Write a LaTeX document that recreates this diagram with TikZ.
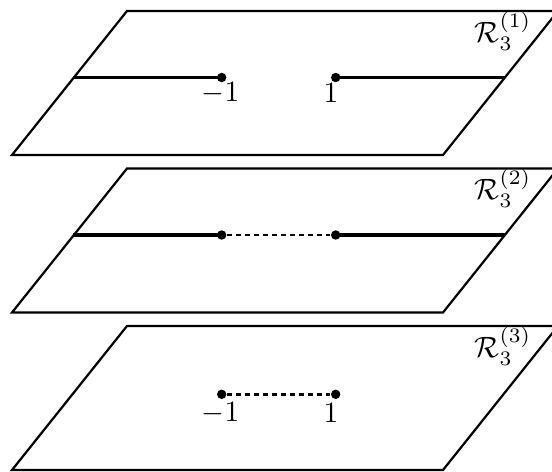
\documentclass[tikz,border=0pt]{standalone}
\begin{document}
\begin{tikzpicture}[x=0.34pt,y=-0.34pt,
  edge/.style={line width=0.75pt, line join=miter},
  cut/.style={line width=1.15pt},
  dcut/.style={line width=1.0pt, dash pattern=on 1.7pt off 1.35pt},
  branchpt/.style={circle, fill=black, inner sep=0pt, minimum size=3.2pt},
  numlbl/.style={inner sep=0pt},
  sheetlbl/.style={inner sep=0pt}]
\useasboundingbox (0,0) rectangle (552,472);
\clip (0,0) rectangle (552,472);
% ---------- sheet 1 ----------
\begin{scope}[yshift=-11*0.34pt]
  \draw[edge] (12,144) -- (443,144) -- (558,0) -- (127,0) -- cycle;
  \coordinate (l1) at (73.5,66.5);
  \coordinate (r1) at (505,66.5);
  \node[branchpt] (a1) at (221.7,66.5) {};
  \node[branchpt] (b1) at (335.7,66.5) {};
  \draw[cut] (l1) -- (a1.center);
  \draw[cut] (b1.center) -- (r1);
  \node[numlbl] (ma1) at (220.5,82) {$-1$};
  \node[numlbl] (pa1) at (331,82) {$1$};
  \node[sheetlbl] (s1) at (503,20.5) {$\mathcal{R}_3^{(1)}$};
\end{scope}
% ---------- sheet 2 ----------
\begin{scope}[yshift=-168.5*0.34pt]
  \draw[edge] (12,144) -- (443,144) -- (558,0) -- (127,0) -- cycle;
  \coordinate (l2) at (73.5,66.5);
  \coordinate (r2) at (505,66.5);
  \node[branchpt] (a2) at (221.7,66.5) {};
  \node[branchpt] (b2) at (335.7,66.5) {};
  \draw[cut] (l2) -- (a2.center);
  \draw[dcut] (a2) -- (b2);
  \draw[cut] (b2.center) -- (r2);
  \node[sheetlbl] (s2) at (503,20) {$\mathcal{R}_3^{(2)}$};
\end{scope}
% ---------- sheet 3 ----------
\begin{scope}[yshift=-326*0.34pt]
  \draw[edge] (12,144) -- (443,144) -- (558,0) -- (127,0) -- cycle;
  \node[branchpt] (a3) at (221.7,68.3) {};
  \node[branchpt] (b3) at (335.7,68.3) {};
  \draw[dcut] (a3) -- (b3);
  \node[numlbl] (ma3) at (220.5,87) {$-1$};
  \node[numlbl] (pa3) at (331,87) {$1$};
  \node[sheetlbl] (s3) at (503,20) {$\mathcal{R}_3^{(3)}$};
\end{scope}
\end{tikzpicture}
\end{document}
